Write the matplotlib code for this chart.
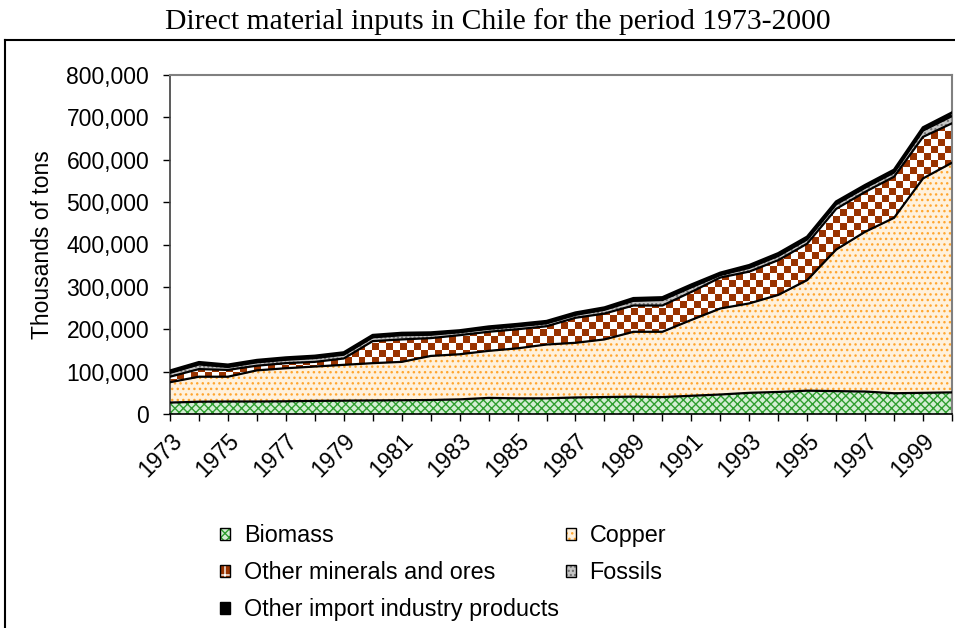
import numpy as np
import matplotlib
matplotlib.use('Agg')
import matplotlib.pyplot as plt
from matplotlib.colors import ListedColormap
from matplotlib.lines import Line2D
from matplotlib.patches import Patch
from matplotlib.ticker import FuncFormatter

# thousands of tons
years = np.arange(1973, 2001)
biomass = [27000, 29000, 29500, 29500, 30000, 31000, 31500, 32000, 32500, 33000,
           34500, 38000, 37000, 37000, 39000, 40000, 41000, 40000, 43000, 46000,
           50000, 52000, 55000, 54000, 53000, 49000, 50000, 51000]
copper = [48000, 59000, 58500, 73500, 78000, 81000, 84500, 88000, 90500, 104000,
          106500, 111000, 118000, 127000, 129000, 136000, 153000, 154000, 179000, 203000,
          211000, 229000, 261000, 334000, 377000, 414000, 506000, 542000]
minerals = [13000, 18000, 16000, 11000, 12000, 11000, 15000, 52000, 53000, 42000,
            45000, 45000, 45000, 43000, 59000, 61000, 62000, 62000, 66000, 73000,
            75000, 82000, 86000, 96000, 94000, 97000, 98000, 93000]
fossils = [9000, 11000, 7000, 8000, 8000, 9000, 9000, 9000, 10000, 8000,
           7000, 7000, 7000, 7000, 7000, 9000, 11000, 13000, 11000, 6000,
           9000, 10000, 10000, 11000, 10000, 10000, 15000, 17000]
other_imports = [5000, 5000, 5000, 5000, 5000, 5000, 5000, 5000, 5000, 5000,
                 4000, 5000, 5000, 5000, 5000, 5000, 6000, 6000, 6000, 5000,
                 6000, 6000, 6000, 6000, 6000, 6000, 7000, 8000]
names = ['Biomass', 'Copper', 'Other minerals and ores', 'Fossils',
         'Other import industry products']
tick_labels = [str(y) if (y - 1973) % 2 == 0 else '' for y in years]

plt.rcParams['font.family'] = ['Liberation Sans', 'DejaVu Sans']
plt.rcParams['hatch.linewidth'] = 1.0

fig = plt.figure(figsize=(9.55, 6.28), dpi=100)
ax = fig.add_axes([170/955, 1 - 414/628, (952 - 170)/955, (414 - 75)/628])

stack = np.vstack([biomass, copper, minerals, fossils, other_imports])
tops = np.cumsum(stack, axis=0)
bottoms = np.vstack([np.zeros(len(years)), tops[:-1]])

# facecolor, hatch, hatch colour
styles = [('#d4eed4', 'xxxx', '#2f9e2f'),
          ('#fff1dc', '...', '#ffa630'),
          ('#993300', None, '#993300'),
          ('#c4c4c4', '....', '#6e6e6e'),
          ('black', None, 'black')]

for i, (fc, h, hc) in enumerate(styles):
    coll = ax.fill_between(years, bottoms[i], tops[i], facecolor=fc,
                           edgecolor=hc, hatch=h, linewidth=0, zorder=1)
    if i == 2:
        # checkerboard fill for the minerals band
        checker = np.add.outer(np.arange(48), np.arange(112)) % 2
        im = ax.imshow(checker, extent=(1973, 2000, 0, 800000), aspect='auto',
                       interpolation='nearest',
                       cmap=ListedColormap(['white', '#993300']), zorder=2)
        im.set_clip_path(coll.get_paths()[0], transform=ax.transData)

for i in range(len(styles)):
    ax.plot(years, tops[i], color='black', lw=1.6 if i < 4 else 2.0, zorder=3)

ax.set_xlim(1973, 2000)
ax.set_ylim(0, 800000)
ax.set_yticks(np.arange(0, 800001, 100000))
ax.yaxis.set_major_formatter(FuncFormatter(lambda v, p: f'{v:,.0f}'))
ax.set_xticks(years)
ax.set_xticklabels(tick_labels, rotation=45, ha='right', va='top',
                   rotation_mode='anchor')
ax.tick_params(axis='both', labelsize=16.5, length=5, width=1, direction='out')
ax.tick_params(axis='x', pad=6)
ax.tick_params(axis='y', pad=10)
ax.set_ylabel('Thousands of tons', fontsize=16.5, labelpad=9)

for s in ['top', 'right']:
    ax.spines[s].set_color('#808080')
    ax.spines[s].set_linewidth(1.5)
ax.spines['left'].set_color('#404040')
ax.spines['bottom'].set_color('black')
ax.spines['left'].set_linewidth(1.2)
ax.spines['bottom'].set_linewidth(1.2)

fig.text(498/955, 1 - 22/628, 'Direct material inputs in Chile for the period 1973-2000',
         ha='center', va='center', fontsize=21.3, family=['Liberation Serif', 'DejaVu Serif'])

# outer chart frame
fig.add_artist(Line2D([5/955, 5/955], [0, 1 - 40/628], transform=fig.transFigure,
                      color='black', lw=1.5))
fig.add_artist(Line2D([5/955, 1], [1 - 40/628, 1 - 40/628], transform=fig.transFigure,
                      color='black', lw=1.5))

handles = []
for fc, h, hc in styles:
    handles.append((Patch(facecolor=fc, edgecolor=hc, hatch=h, lw=0),
                    Patch(facecolor='none', edgecolor='black', lw=1)))
handles[2] = (Patch(facecolor='#993300', edgecolor='white', hatch='+', lw=0),
              Patch(facecolor='none', edgecolor='black', lw=1))
order = [0, 2, 4, 1, 3]
fig.legend([handles[i] for i in order], [names[i] for i in order],
           loc='upper left', bbox_to_anchor=(220/955, 1 - 524/628), ncol=2,
           frameon=False, fontsize=16.8, handlelength=0.42, handleheight=0.42,
           handletextpad=0.6, columnspacing=0.3, labelspacing=0.6,
           borderpad=0, borderaxespad=0)

fig.savefig('out.png', dpi=100)
